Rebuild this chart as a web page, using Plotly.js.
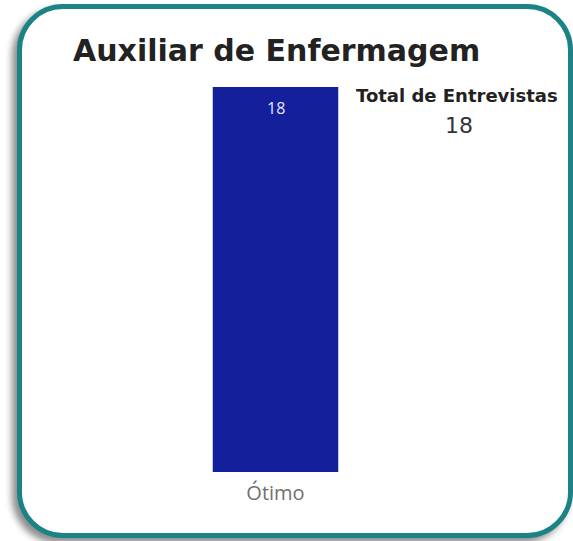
<!DOCTYPE html>
<html>
<head>
<meta charset="utf-8">
<script src="https://cdn.plot.ly/plotly-3.0.1.min.js"></script>
<style>
html,body{margin:0;padding:0;background:#fff;}
#wrap{position:relative;width:573px;height:541px;overflow:hidden;background:#fff;}
#card{position:absolute;left:17px;top:4px;width:546px;height:524px;border:5px solid #1b8383;border-radius:46px;background:#fff;box-shadow:-5px 5px 7px rgba(0,0,0,0.45);}
#chart{position:absolute;left:0;top:0;width:573px;height:541px;}
</style>
</head>
<body>
<div id="wrap">
<div id="card"></div>
<div id="chart"></div>
</div>
<script>
const chartTitle = "Auxiliar de Enfermagem";
const categories = ["Ótimo"];
const values = [18];
const cardTitle = "Total de Entrevistas";
const totalValue = 18;

const data = [{
  type: "bar",
  x: categories,
  y: values,
  marker: {color: "#141f9b"},
  width: 0.5,
  hoverinfo: "skip"
}];

const annotations = categories.map((c, i) => ({
  x: c, y: values[i], xref: "x", yref: "y",
  text: String(values[i]), showarrow: false,
  yanchor: "middle", yshift: -21,
  font: {family: "Open Sans, sans-serif", size: 16, color: "#e4e6ff"}
}));
annotations.push({
  xref: "paper", yref: "paper", x: 1, y: 1,
  xanchor: "left", yanchor: "middle",
  xshift: (354 - 401), yshift: -8,
  text: "<b>" + cardTitle + "</b>", showarrow: false,
  font: {family: "DejaVu Sans, sans-serif", size: 18, color: "#222"}
});
annotations.push({
  xref: "paper", yref: "paper", x: 1, y: 1,
  xanchor: "center", yanchor: "middle",
  xshift: (459 - 401), yshift: -38,
  text: String(totalValue), showarrow: false,
  font: {family: "DejaVu Sans, sans-serif", size: 22, color: "#333"}
});

const layout = {
  width: 573, height: 541,
  margin: {l: 150, r: 172, t: 87, b: 69},
  paper_bgcolor: "rgba(0,0,0,0)",
  plot_bgcolor: "rgba(0,0,0,0)",
  showlegend: false,
  title: {
    text: "<b>" + chartTitle + "</b>",
    xref: "container", yref: "container",
    x: 73/573, xanchor: "left",
    y: 1 - 50/541, yanchor: "middle",
    font: {family: "DejaVu Sans, sans-serif", size: 30, color: "#222"}
  },
  xaxis: {
    type: "category",
    showgrid: false, zeroline: false, showline: false,
    ticks: "", ticklabelstandoff: 7,
    tickfont: {family: "Open Sans, sans-serif", size: 20, color: "#707070"},
    fixedrange: true
  },
  yaxis: {
    range: [0, 18], visible: false, showgrid: false, zeroline: false, fixedrange: true
  },
  annotations: annotations
};

Plotly.newPlot("chart", data, layout, {displayModeBar: false, staticPlot: true});
</script>
</body>
</html>
